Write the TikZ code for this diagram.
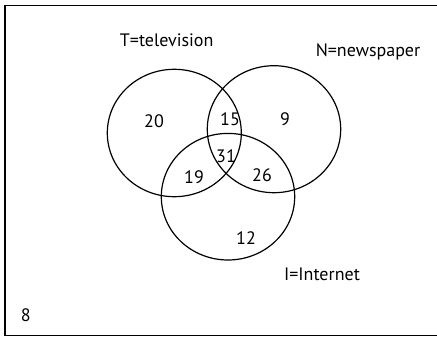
\documentclass[tikz,border=0pt]{standalone}
\usepackage{fontspec}
\setmainfont{PT Sans}
\begin{document}
\begin{tikzpicture}[x=1pt,y=-1pt,
  setline/.style={draw=black,line width=1.2pt},
  lbl/.style={font=\fontsize{18}{20}\selectfont,inner sep=0pt},
  num/.style={font=\fontsize{18}{20}\selectfont,inner sep=0pt}]
\useasboundingbox (0,0) rectangle (437,337);
% frame
\draw[setline] (438,5.5) -- (5,5.5) -- (5,335.5) -- (438,335.5);
% sets
\draw[setline] (174.3,133) ellipse [x radius=67,y radius=63.7];
\draw[setline] (274,129.2) ellipse [x radius=66.7,y radius=63.5];
\draw[setline] (228,196.7) ellipse [x radius=66.7,y radius=63.3];
% labels
\node[lbl] (tl) at (166.7,40.7) {T=television};
\node[lbl] (nl) at (368,51.7) {N=newspaper};
\node[lbl] (il) at (322,274) {I=Internet};
% counts
\node[num] (t) at (154,121.7) {20};
\node[num] (tn) at (230,119.3) {15};
\node[num] (n) at (285,119.3) {9};
\node[num] (tni) at (226,156.7) {31};
\node[num] (ti) at (194,177.3) {19};
\node[num] (ni) at (262,175.7) {26};
\node[num] (i) at (246,237.7) {12};
\node[num] (o) at (25.7,315) {8};
\end{tikzpicture}
\end{document}
